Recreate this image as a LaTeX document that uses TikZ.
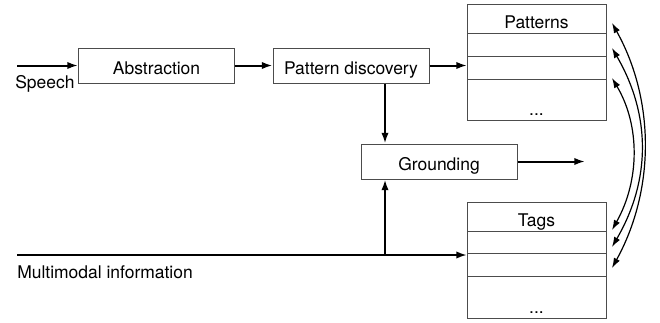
\documentclass[tikz,border=0pt]{standalone}
\usepackage{fontspec}
\setmainfont{TeX Gyre Heros}
\usetikzlibrary{arrows.meta,positioning,calc}
\tikzset{
  blockbox/.style={draw=black!70, line width=0.75pt, minimum width=117pt, minimum height=26.25pt,
    inner sep=0pt, text height=13pt, text depth=0pt},
  rowbox/.style={draw=black!70, line width=0.75pt, minimum width=104.25pt, inner sep=0pt, outer sep=0pt},
  headrow/.style={rowbox, text height=14.5pt, text depth=0pt},
  flow/.style={line width=1.5pt, -{Latex[length=8pt,width=5.5pt]}},
  link/.style={line width=0.9pt, {Latex[length=7.5pt,width=5pt]}-{Latex[length=7.5pt,width=5pt]}},
}
\begin{document}
\begin{tikzpicture}[x=0.75pt,y=-0.75pt,font=\fontsize{13.1}{15}\selectfont]
\useasboundingbox (0,0) rectangle (660,322);
% processing blocks
\node[blockbox] (abs) at (156.5,65.5) {Abstraction};
\node[blockbox] (disc) at (351,65.5) {Pattern discovery};
\node[blockbox] (grd) at (439,161.5) {Grounding};
% pattern table
\node[headrow, minimum height=21.75pt] (pat1) at (536.5,18.5) {Patterns};
\node[rowbox, minimum height=17.25pt, below=0pt of pat1] (pat2) {};
\node[rowbox, minimum height=17.25pt, below=0pt of pat2] (pat3) {};
\node[rowbox, minimum height=30.75pt, below=0pt of pat3] (pat4) {};
\node[above=3.5pt of pat4.south, inner sep=0pt] (patdots) {...};
% tag table
\node[headrow, minimum height=21.75pt] (tag1) at (536.5,216.5) {Tags};
\node[rowbox, minimum height=16.5pt, below=0pt of tag1] (tag2) {};
\node[rowbox, minimum height=17.25pt, below=0pt of tag2] (tag3) {};
\node[rowbox, minimum height=31.5pt, below=0pt of tag3] (tag4) {};
\node[above=3.5pt of tag4.south, inner sep=0pt] (tagdots) {...};
% inputs
\node[anchor=base west, inner sep=0pt] (speech) at (15,88) {Speech};
\node[anchor=base west, inner sep=0pt] (multi) at (17,278) {Multimodal information};
\coordinate (spin) at (17,65.5);
\coordinate (mmin) at (17,255);
\coordinate (jn) at (385,255);
\coordinate (grdout) at (585,161.5);
% flow arrows
\draw[flow] (spin) -- (abs.west);
\draw[flow] (abs.east) -- (disc.west);
\draw[flow] (disc.east) -- (disc.east -| pat3.west);
\draw[flow] (disc.south -| jn) -- (grd.north -| jn);
\draw[flow] (mmin) -- (mmin -| tag3.west);
\draw[flow] (jn) -- (grd.south -| jn);
\draw[flow] (grd.east) -- (grdout);
% links between tables
\coordinate (p1) at (612,23);
\coordinate (p2) at (612,48);
\coordinate (p3) at (612,78);
\coordinate (t1) at (612,230);
\coordinate (t2) at (612,247);
\coordinate (t3) at (612,268);
\draw[link] (p1) .. controls (655,100) and (655,190) .. (t3);
\draw[link] (p2) .. controls (651,115) and (651,180) .. (t2);
\draw[link] (p3) .. controls (640,125) and (640,180) .. (t1);
\end{tikzpicture}
\end{document}
